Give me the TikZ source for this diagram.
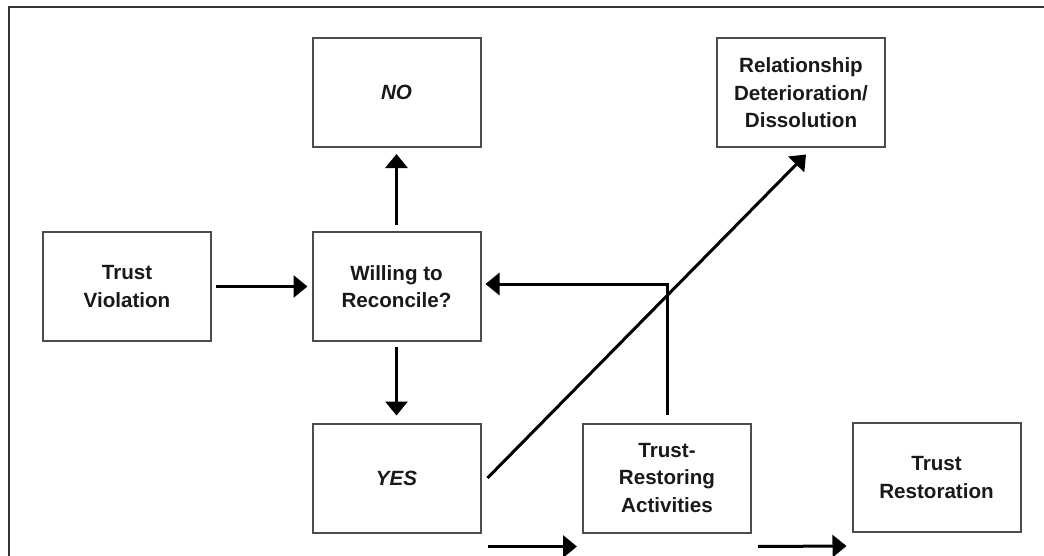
\documentclass[tikz,border=0pt]{standalone}
\usepackage{fontspec}
\setmainfont{Liberation Sans}
\usetikzlibrary{arrows.meta}

\begin{document}
\begin{tikzpicture}[x=0.5pt,y=-0.5pt,
  caja/.style={draw=black!70, line width=1pt, minimum width=84pt, minimum height=54.5pt,
    inner sep=0pt, align=center, text=black!90, font=\bfseries\fontsize{10.3}{13.75}\selectfont},
  flecha/.style={line width=1.5pt, -{Triangle[length=7pt,width=11pt]}}]
      \useasboundingbox (0,0) rectangle (1044,556);
      %marco
      \draw[line width=1pt, black!80] (9,556) |- (1044,7);
      %cajas
      \node[caja] (viol) at (127,286.5) {Trust\\Violation};
      \node[caja] (will) at (396.5,286.5) {Willing to\\Reconcile?};
      \node[caja] (no) at (396.5,92.5) {\itshape NO};
      \node[caja] (yes) at (396.5,478) {\itshape YES};
      \node[caja] (rest) at (667,478) {Trust-\\Restoring\\Activities};
      \node[caja] (restd) at (936.5,477.5) {Trust\\Restoration};
      \node[caja] (rel) at (801,93) {Relationship\\Deterioration/\\Dissolution};
      %flechas
      \draw[flecha, shorten <=2pt, shorten >=2pt] (viol) -- (will);
      \draw[flecha, shorten <=3pt, shorten >=3pt] (will) -- (no);
      \draw[flecha, shorten <=2.5pt, shorten >=3.5pt] (will) -- (yes);
      \draw[flecha] ([xshift=3pt]yes.east) -- ([xshift=2.5pt,yshift=-3pt]rel.south);
      \draw[flecha] ([yshift=4pt]rest.north) |- ([xshift=2pt,yshift=1.25pt]will.east);
      %abajo
      \draw[flecha] ([xshift=3pt,yshift=-6.5pt]yes.south east) -- ([xshift=-2.5pt,yshift=-6.5pt]rest.south west);
      \draw[flecha] ([xshift=3pt,yshift=-6.5pt]rest.south east) -- ([xshift=-2.5pt,yshift=-6.5pt]restd.south west);
\end{tikzpicture}
\end{document}
